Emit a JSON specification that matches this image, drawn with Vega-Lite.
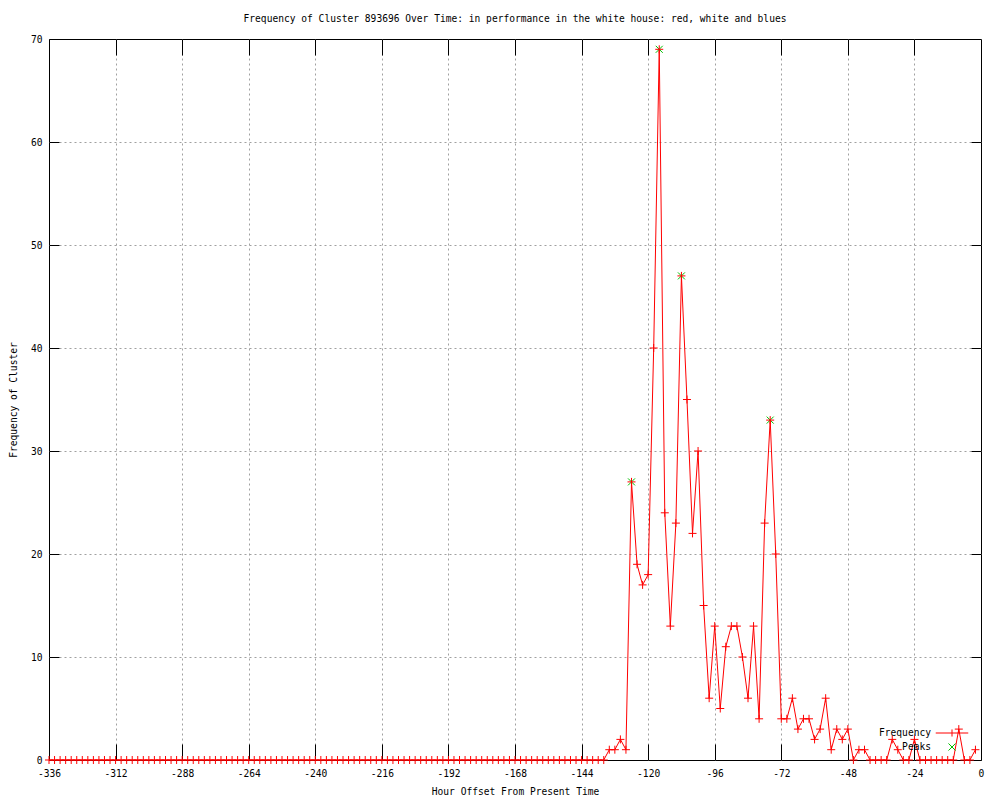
{
  "$schema": "https://vega.github.io/schema/vega-lite/v6.json",
  "width": 932,
  "height": 721,
  "autosize": {"type": "none"},
  "padding": {"left": 49, "top": 39, "right": 19, "bottom": 40},
  "background": "white",
  "config": {
    "font": "DejaVu Sans Mono",
    "view": {"stroke": "black", "strokeWidth": 1},
    "axis": {"labelFont": "DejaVu Sans Mono", "labelFontSize": 9.6, "labelColor": "black", "titleFont": "DejaVu Sans Mono", "titleFontSize": 9.6, "titleFontWeight": "normal", "titleColor": "black", "domain": false, "tickColor": "black", "tickWidth": 1, "gridColor": "#a0a0a0", "gridDash": [2, 3], "gridWidth": 1, "gridOpacity": 1}
  },
  "title": {"text": "Frequency of Cluster 893696 Over Time: in performance in the white house: red, white and blues", "font": "DejaVu Sans Mono", "fontSize": 9.6, "fontWeight": "normal", "color": "black", "anchor": "middle", "baseline": "bottom", "offset": 0},
  "datasets": {
    "freq": [
      {"hour": -336, "frequency": 0}, {"hour": -334, "frequency": 0}, {"hour": -332, "frequency": 0}, {"hour": -330, "frequency": 0}, {"hour": -328, "frequency": 0}, {"hour": -326, "frequency": 0}, {"hour": -324, "frequency": 0}, {"hour": -322, "frequency": 0}, {"hour": -320, "frequency": 0}, {"hour": -318, "frequency": 0},
      {"hour": -316, "frequency": 0}, {"hour": -314, "frequency": 0}, {"hour": -312, "frequency": 0}, {"hour": -310, "frequency": 0}, {"hour": -308, "frequency": 0}, {"hour": -306, "frequency": 0}, {"hour": -304, "frequency": 0}, {"hour": -302, "frequency": 0}, {"hour": -300, "frequency": 0}, {"hour": -298, "frequency": 0},
      {"hour": -296, "frequency": 0}, {"hour": -294, "frequency": 0}, {"hour": -292, "frequency": 0}, {"hour": -290, "frequency": 0}, {"hour": -288, "frequency": 0}, {"hour": -286, "frequency": 0}, {"hour": -284, "frequency": 0}, {"hour": -282, "frequency": 0}, {"hour": -280, "frequency": 0}, {"hour": -278, "frequency": 0},
      {"hour": -276, "frequency": 0}, {"hour": -274, "frequency": 0}, {"hour": -272, "frequency": 0}, {"hour": -270, "frequency": 0}, {"hour": -268, "frequency": 0}, {"hour": -266, "frequency": 0}, {"hour": -264, "frequency": 0}, {"hour": -262, "frequency": 0}, {"hour": -260, "frequency": 0}, {"hour": -258, "frequency": 0},
      {"hour": -256, "frequency": 0}, {"hour": -254, "frequency": 0}, {"hour": -252, "frequency": 0}, {"hour": -250, "frequency": 0}, {"hour": -248, "frequency": 0}, {"hour": -246, "frequency": 0}, {"hour": -244, "frequency": 0}, {"hour": -242, "frequency": 0}, {"hour": -240, "frequency": 0}, {"hour": -238, "frequency": 0},
      {"hour": -236, "frequency": 0}, {"hour": -234, "frequency": 0}, {"hour": -232, "frequency": 0}, {"hour": -230, "frequency": 0}, {"hour": -228, "frequency": 0}, {"hour": -226, "frequency": 0}, {"hour": -224, "frequency": 0}, {"hour": -222, "frequency": 0}, {"hour": -220, "frequency": 0}, {"hour": -218, "frequency": 0},
      {"hour": -216, "frequency": 0}, {"hour": -214, "frequency": 0}, {"hour": -212, "frequency": 0}, {"hour": -210, "frequency": 0}, {"hour": -208, "frequency": 0}, {"hour": -206, "frequency": 0}, {"hour": -204, "frequency": 0}, {"hour": -202, "frequency": 0}, {"hour": -200, "frequency": 0}, {"hour": -198, "frequency": 0},
      {"hour": -196, "frequency": 0}, {"hour": -194, "frequency": 0}, {"hour": -192, "frequency": 0}, {"hour": -190, "frequency": 0}, {"hour": -188, "frequency": 0}, {"hour": -186, "frequency": 0}, {"hour": -184, "frequency": 0}, {"hour": -182, "frequency": 0}, {"hour": -180, "frequency": 0}, {"hour": -178, "frequency": 0},
      {"hour": -176, "frequency": 0}, {"hour": -174, "frequency": 0}, {"hour": -172, "frequency": 0}, {"hour": -170, "frequency": 0}, {"hour": -168, "frequency": 0}, {"hour": -166, "frequency": 0}, {"hour": -164, "frequency": 0}, {"hour": -162, "frequency": 0}, {"hour": -160, "frequency": 0}, {"hour": -158, "frequency": 0},
      {"hour": -156, "frequency": 0}, {"hour": -154, "frequency": 0}, {"hour": -152, "frequency": 0}, {"hour": -150, "frequency": 0}, {"hour": -148, "frequency": 0}, {"hour": -146, "frequency": 0}, {"hour": -144, "frequency": 0}, {"hour": -142, "frequency": 0}, {"hour": -140, "frequency": 0}, {"hour": -138, "frequency": 0},
      {"hour": -136, "frequency": 0}, {"hour": -134, "frequency": 1}, {"hour": -132, "frequency": 1}, {"hour": -130, "frequency": 2}, {"hour": -128, "frequency": 1}, {"hour": -126, "frequency": 27}, {"hour": -124, "frequency": 19}, {"hour": -122, "frequency": 17}, {"hour": -120, "frequency": 18}, {"hour": -118, "frequency": 40},
      {"hour": -116, "frequency": 69}, {"hour": -114, "frequency": 24}, {"hour": -112, "frequency": 13}, {"hour": -110, "frequency": 23}, {"hour": -108, "frequency": 47}, {"hour": -106, "frequency": 35}, {"hour": -104, "frequency": 22}, {"hour": -102, "frequency": 30}, {"hour": -100, "frequency": 15}, {"hour": -98, "frequency": 6},
      {"hour": -96, "frequency": 13}, {"hour": -94, "frequency": 5}, {"hour": -92, "frequency": 11}, {"hour": -90, "frequency": 13}, {"hour": -88, "frequency": 13}, {"hour": -86, "frequency": 10}, {"hour": -84, "frequency": 6}, {"hour": -82, "frequency": 13}, {"hour": -80, "frequency": 4}, {"hour": -78, "frequency": 23},
      {"hour": -76, "frequency": 33}, {"hour": -74, "frequency": 20}, {"hour": -72, "frequency": 4}, {"hour": -70, "frequency": 4}, {"hour": -68, "frequency": 6}, {"hour": -66, "frequency": 3}, {"hour": -64, "frequency": 4}, {"hour": -62, "frequency": 4}, {"hour": -60, "frequency": 2}, {"hour": -58, "frequency": 3},
      {"hour": -56, "frequency": 6}, {"hour": -54, "frequency": 1}, {"hour": -52, "frequency": 3}, {"hour": -50, "frequency": 2}, {"hour": -48, "frequency": 3}, {"hour": -46, "frequency": 0}, {"hour": -44, "frequency": 1}, {"hour": -42, "frequency": 1}, {"hour": -40, "frequency": 0}, {"hour": -38, "frequency": 0},
      {"hour": -36, "frequency": 0}, {"hour": -34, "frequency": 0}, {"hour": -32, "frequency": 2}, {"hour": -30, "frequency": 1}, {"hour": -28, "frequency": 0}, {"hour": -26, "frequency": 0}, {"hour": -24, "frequency": 2}, {"hour": -22, "frequency": 0}, {"hour": -20, "frequency": 0}, {"hour": -18, "frequency": 0},
      {"hour": -16, "frequency": 0}, {"hour": -14, "frequency": 0}, {"hour": -12, "frequency": 0}, {"hour": -10, "frequency": 0}, {"hour": -8, "frequency": 3}, {"hour": -6, "frequency": 0}, {"hour": -4, "frequency": 0}, {"hour": -2, "frequency": 1}
    ],
    "peaks": [
      {"hour": -126, "frequency": 27}, {"hour": -116, "frequency": 69}, {"hour": -108, "frequency": 47}, {"hour": -76, "frequency": 33}
    ]
  },
  "resolve": {"axis": {"x": "independent", "y": "independent"}},
  "layer": [
    {
      "data": {"name": "freq"},
      "mark": {"type": "line", "strokeWidth": 1, "interpolate": "linear"},
      "encoding": {
        "x": {"field": "hour", "type": "quantitative", "scale": {"domain": [-336, 0], "nice": false, "zero": false},
              "axis": {"orient": "bottom", "title": "Hour Offset From Present Time", "values": [-336, -312, -288, -264, -240, -216, -192, -168, -144, -120, -96, -72, -48, -24, 0], "labelExpr": "'' + datum.value", "grid": false, "ticks": true, "tickSize": -16, "labelPadding": 24, "titlePadding": 9, "labelFlush": false, "labelOverlap": false}},
        "y": {"field": "frequency", "type": "quantitative", "scale": {"domain": [0, 70], "nice": false},
              "axis": {"orient": "left", "title": "Frequency of Cluster", "values": [0, 10, 20, 30, 40, 50, 60, 70], "grid": false, "ticks": true, "tickSize": -10, "labelPadding": 17, "titlePadding": 12, "labelFlush": false, "labelOverlap": false}},
        "color": {"datum": "Frequency", "type": "nominal",
                  "scale": {"domain": ["Frequency", "Peaks"], "range": ["#ff0000", "#00c000"]},
                  "legend": {"title": null, "orient": "none", "legendX": 895, "legendY": 686, "labelFont": "DejaVu Sans Mono", "labelFontSize": 9.6, "labelColor": "black", "labelAlign": "right", "labelOffset": -29, "symbolSize": 200, "symbolStrokeWidth": 1, "rowPadding": 0, "padding": 0,
                             "encode": {"symbols": {"update": {"shape": {"signal": "datum.value === 'Frequency' ? 'M-2.3,0H2.3M0,-0.5V0.5' : 'M-0.5,-0.5L0.5,0.5M-0.5,0.5L0.5,-0.5'"}, "fill": {"value": "transparent"}}}}}}
      }
    },
    {
      "data": {"name": "peaks"},
      "mark": {"type": "point", "shape": "M-1,-1L1,1M-1,1L1,-1", "size": 49, "filled": false, "strokeWidth": 1, "opacity": 1},
      "encoding": {
        "x": {"field": "hour", "type": "quantitative", "axis": null},
        "y": {"field": "frequency", "type": "quantitative", "axis": null},
        "color": {"datum": "Peaks", "type": "nominal"}
      }
    },
    {
      "data": {"name": "freq"},
      "mark": {"type": "point", "shape": "M-1,0H1M0,-1V1", "size": 64, "filled": false, "strokeWidth": 1, "opacity": 1},
      "encoding": {
        "x": {"field": "hour", "type": "quantitative",
              "axis": {"orient": "top", "title": null, "labels": false, "grid": true, "ticks": true, "tickSize": -16, "values": [-312, -288, -264, -240, -216, -192, -168, -144, -120, -96, -72, -48, -24]}},
        "y": {"field": "frequency", "type": "quantitative",
              "axis": {"orient": "right", "title": null, "labels": false, "grid": true, "ticks": true, "tickSize": -10, "values": [10, 20, 30, 40, 50, 60]}},
        "color": {"datum": "Frequency", "type": "nominal"}
      }
    }
  ]
}
